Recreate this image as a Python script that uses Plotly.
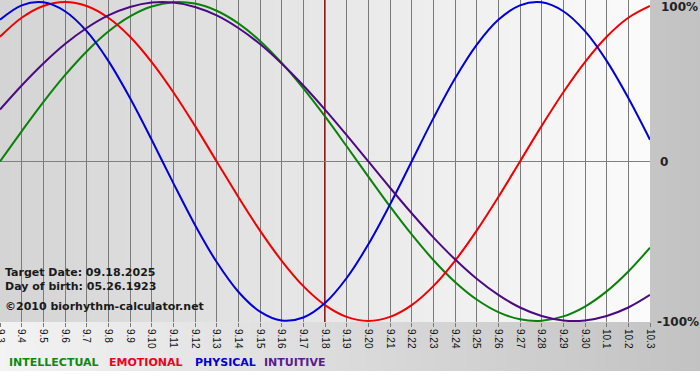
import plotly.graph_objects as go

# ---- data ----
days = ["9.3", "9.4", "9.5", "9.6", "9.7", "9.8", "9.9", "9.10", "9.11", "9.12",
        "9.13", "9.14", "9.15", "9.16", "9.17", "9.18", "9.19", "9.20", "9.21", "9.22",
        "9.23", "9.24", "9.25", "9.26", "9.27", "9.28", "9.29", "9.30", "10.1", "10.2", "10.3"]

intellectual = [0.0, 0.189, 0.372, 0.541, 0.690, 0.815, 0.910, 0.972, 0.999, 0.990,
                0.945, 0.866, 0.756, 0.618, 0.458, 0.282, 0.095, -0.095, -0.282, -0.458,
                -0.618, -0.756, -0.866, -0.945, -0.990, -0.999, -0.972, -0.910, -0.815, -0.690, -0.541]
emotional = [0.782, 0.901, 0.975, 1.0, 0.975, 0.901, 0.782, 0.623, 0.434, 0.223,
             0.0, -0.223, -0.434, -0.623, -0.782, -0.901, -0.975, -1.0, -0.975, -0.901,
             -0.782, -0.623, -0.434, -0.223, 0.0, 0.223, 0.434, 0.623, 0.782, 0.901, 0.975]
physical = [0.888, 0.979, 0.998, 0.942, 0.817, 0.631, 0.398, 0.136, -0.136, -0.398,
            -0.631, -0.817, -0.942, -0.998, -0.979, -0.888, -0.731, -0.520, -0.270, 0.0,
            0.270, 0.520, 0.731, 0.888, 0.979, 0.998, 0.942, 0.817, 0.631, 0.398, 0.136]
intuitive = [0.325, 0.476, 0.614, 0.736, 0.837, 0.916, 0.969, 0.997, 0.997, 0.969,
             0.916, 0.837, 0.736, 0.614, 0.476, 0.325, 0.165, 0.0, -0.165, -0.325,
             -0.476, -0.614, -0.736, -0.837, -0.916, -0.969, -0.997, -0.997, -0.969, -0.916, -0.837]

series_names = ["INTELLECTUAL", "EMOTIONAL", "PHYSICAL", "INTUITIVE"]
target_day = "9.18"
y_tick_vals = [1, 0, -1]
y_tick_text = ["100%", "0", "-100%"]
info_lines = ["Target Date: 09.18.2025", "Day of birth: 05.26.1923", "\u00a92010 biorhythm-calculator.net"]

# ---- styling ----
W, H = 700, 380
L, R, T, B = 0, 50, 0, 58
PW, PH = W - L - R, H - T - B
colors = {"INTELLECTUAL": "#0a820a", "EMOTIONAL": "#f00000",
          "PHYSICAL": "#0000d8", "INTUITIVE": "#4c0a82"}
legend_colors = {"INTELLECTUAL": "#0a8c0a", "EMOTIONAL": "#f0001c",
                 "PHYSICAL": "#0000d0", "INTUITIVE": "#5a1a8c"}

def px_x(px):
    return (px - L) / PW

def px_y(py):
    return (PH + T - py) / PH

x = list(range(len(days)))
values = {"INTELLECTUAL": intellectual, "EMOTIONAL": emotional,
          "PHYSICAL": physical, "INTUITIVE": intuitive}

fig = go.Figure()
for name in series_names:
    fig.add_trace(go.Scatter(x=x, y=values[name], mode="lines", name=name,
                             line=dict(color=colors[name], width=2, shape="spline", smoothing=1),
                             hoverinfo="skip", cliponaxis=True))

shapes = []
# outer frame gradient (light left -> darker right)
step = 5
for a in range(0, W, step):
    t = (a + step / 2) / W
    c = round(243 + (194 - 243) * t)
    shapes.append(dict(type="rect", xref="paper", yref="paper",
                       x0=px_x(a), x1=px_x(a + step + 0.5), y0=px_y(371), y1=px_y(0),
                       fillcolor=f"rgb({c},{c},{c})", line=dict(width=0), layer="below"))
# plot area gradient (darker left -> light right)
for a in range(0, PW, step):
    t = (a + step / 2) / PW
    c = round(212 + (251 - 212) * t)
    shapes.append(dict(type="rect", xref="paper", yref="paper",
                       x0=px_x(a), x1=min(1, px_x(a + step + 0.5)), y0=0, y1=1,
                       fillcolor=f"rgb({c},{c},{c})", line=dict(width=0), layer="below"))
# target day line
ti = days.index(target_day)
shapes.append(dict(type="line", xref="x", yref="paper", x0=x[ti], x1=x[ti], y0=0, y1=1,
                   line=dict(color="#8b1e1e", width=2), layer="between"))

annotations = []
# right-side percent labels
label_py = {"100%": 7, "0": 162, "-100%": 322}
label_px = {"100%": 659, "0": 658, "-100%": 655}
for v, tx in zip(y_tick_vals, y_tick_text):
    annotations.append(dict(text=f"<b>{tx}</b>", xref="paper", yref="paper",
                            x=px_x(label_px[tx]), y=px_y(label_py[tx]),
                            xanchor="left", yanchor="middle", showarrow=False,
                            font=dict(family="DejaVu Sans", size=12, color="#222222")))
# info text
for line, py in zip(info_lines, [272, 286, 306]):
    annotations.append(dict(text=f"<b>{line}</b>", xref="paper", yref="paper",
                            x=px_x(3), y=px_y(py), xanchor="left", yanchor="middle",
                            showarrow=False,
                            font=dict(family="DejaVu Sans", size=11, color="#1a1a1a")))
# legend texts
legend_px = [7, 107, 193, 262]
for name, lx in zip(series_names, legend_px):
    annotations.append(dict(text=f"<b>{name}</b>", xref="paper", yref="paper",
                            x=px_x(lx), y=px_y(362), xanchor="left", yanchor="middle",
                            showarrow=False,
                            font=dict(family="DejaVu Sans", size=11, color=legend_colors[name])))

fig.update_layout(
    width=W, height=H, margin=dict(l=L, r=R, t=T, b=B, pad=0, autoexpand=False),
    paper_bgcolor="#ffffff", plot_bgcolor="#e6e6e6",
    showlegend=False, shapes=shapes, annotations=annotations,
    xaxis=dict(range=[x[0], x[-1]], tickvals=x, ticktext=days, tickangle=90,
               showgrid=True, gridcolor="#7a7a7a", gridwidth=1,
               ticks="outside", ticklen=4, tickcolor="#7a7a7a",
               ticklabeloverflow="allow",
               tickfont=dict(family="Liberation Sans", size=10, color="#111111"),
               zeroline=False, showline=False, fixedrange=True, automargin=False),
    yaxis=dict(range=[-1.007, 1.0125], showticklabels=False, ticks="",
               showgrid=False, zeroline=True, zerolinecolor="#808080", zerolinewidth=1,
               showline=False, fixedrange=True, automargin=False),
)

fig.write_html("out.html", config={"displayModeBar": False},
               post_script="document.body.style.margin='0';document.body.style.overflow='hidden';")
